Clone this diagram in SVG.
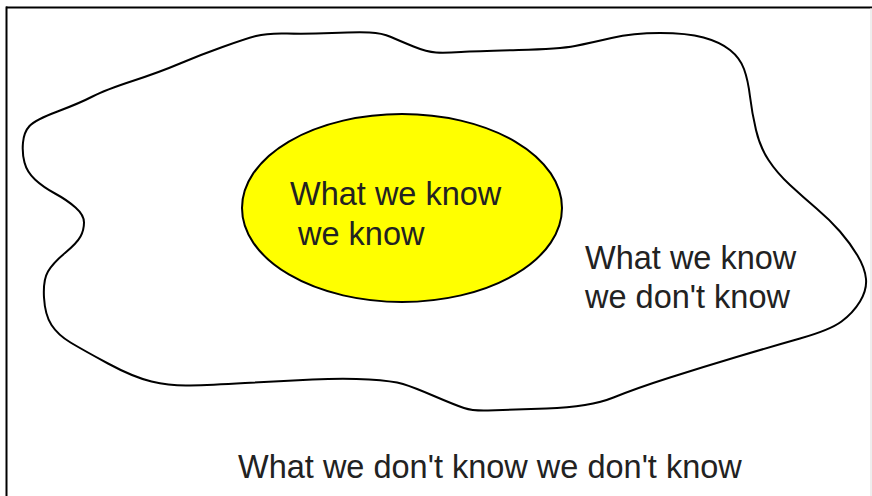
<svg xmlns="http://www.w3.org/2000/svg" width="872" height="496" viewBox="0 0 872 496">
<style>
.t{font-family:"Liberation Sans",Arial,sans-serif;font-size:32.5px;fill:#222}
.frame{stroke:#000;stroke-width:2;fill:none}
</style>
<rect width="872" height="496" fill="#fff"/>
<g id="frame">
<line class="frame" x1="6" y1="7.5" x2="872" y2="7.5"/>
<line class="frame" x1="6.5" y1="6.5" x2="6.5" y2="496"/>
<line x1="871" y1="8" x2="871" y2="496" stroke="#ddd" stroke-width="1"/>
</g>
<g id="unknown-unknowns">
<text class="t" x="238" y="478">What we don't know we don't know</text>
</g>
<g id="known-unknowns">
<path d="M 256,36 Q 267,33 287,33.5 Q 307,34 332,33 Q 357,32 369.5,32.5 Q 382,33 391,37 Q 400,41 413.5,46.5 Q 427,52 436,52.5 Q 445,53 461,52 Q 477,51 518.5,50 Q 560,49 575,46 Q 590,43 611.5,38 Q 633,33 660,33 Q 687,33 703.5,37.5 Q 720,42 730,50 Q 740,58 744,69 Q 748,80 750,96.5 Q 752,113 756,130 Q 760,147 768.5,160 Q 777,173 790,185 Q 803,197 816.5,208.5 Q 830,220 840,231.5 Q 850,243 857.5,255.5 Q 865,268 866,279 Q 867,290 860,301.5 Q 853,313 841.5,321.5 Q 830,330 800,338.5 Q 770,347 736.5,357 Q 703,367 670,377.5 Q 637,388 613.5,397.5 Q 590,407 546.5,408.5 Q 503,410 488,410.5 Q 473,411 464,408 Q 455,405 434,396 Q 413,387 403,384 Q 393,381 369,379.5 Q 345,378 312.5,379.5 Q 280,381 245,383 Q 210,385 190,385.5 Q 170,386 151.5,381.5 Q 133,377 108,363.5 Q 83,350 70.5,342.5 Q 58,335 51.5,325 Q 45,315 44,297.5 Q 43,280 48,271.5 Q 53,263 65,253 Q 77,243 80.5,236.5 Q 84,230 84,222.5 Q 84,215 75.5,207.5 Q 67,200 55,193.5 Q 43,187 35,179.5 Q 27,172 24.5,162.5 Q 22,153 23,142.5 Q 24,132 29.5,126 Q 35,120 57.5,111.5 Q 80,103 92.5,96.5 Q 105,90 132.5,81 Q 160,72 180,63.5 Q 200,55 222.5,47 Q 245,39 256,36 Z" fill="#fff" stroke="#000" stroke-width="2"/>
<text class="t" x="585" y="269">What we know</text>
<text class="t" x="585" y="308">we don't know</text>
</g>
<g id="known-knowns">
<ellipse cx="402" cy="208" rx="160" ry="94" fill="#ffff00" stroke="#000" stroke-width="2"/>
<text class="t" x="290" y="205">What we know</text>
<text class="t" x="298" y="245">we know</text>
</g>
</svg>
